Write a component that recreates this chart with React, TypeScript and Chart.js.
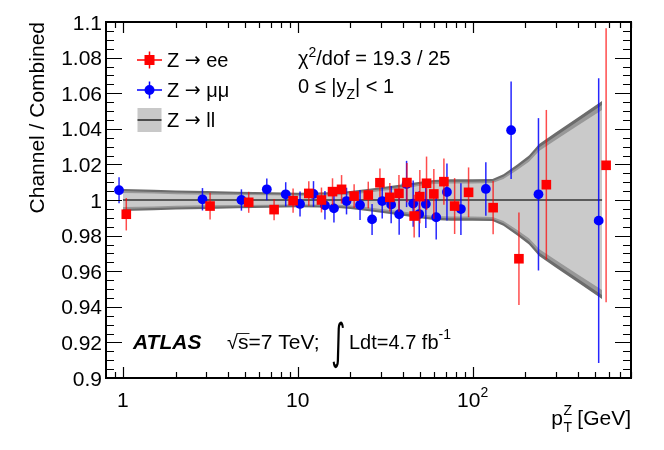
import { useEffect, useRef } from "react"
import { Chart, registerables } from "chart.js"

Chart.register(...registerables)

// Z -> ee points (pT in GeV, ratio to combined, error)
const eeX = [1.045, 3.15, 5.24, 7.32, 9.4, 11.56, 13.66, 15.8, 17.8, 21.0, 25.3, 29.5, 33.6, 37.9, 42.1, 46.3, 49.9, 54.5, 60.0, 68.5, 78.9, 94.8, 131, 184, 264, 580]
const eeY = [0.992, 0.9966, 0.9987, 0.9946, 0.9996, 1.0037, 1.0, 1.0047, 1.006, 1.0022, 1.0028, 1.0097, 1.0015, 1.0037, 1.0098, 0.991, 1.0019, 1.0094, 1.0034, 1.0103, 0.9966, 1.0043, 0.9957, 0.967, 1.0086, 1.0195]
const eeErr = [0.0091, 0.0075, 0.0059, 0.006, 0.0068, 0.0069, 0.007, 0.0075, 0.008, 0.0067, 0.0075, 0.008, 0.008, 0.0103, 0.011, 0.012, 0.015, 0.015, 0.014, 0.013, 0.0157, 0.014, 0.015, 0.026, 0.042, 0.077]

// Z -> mumu points
const mmX = [0.95, 2.85, 4.76, 6.65, 8.53, 10.3, 12.3, 14.3, 16.1, 19.0, 22.7, 26.6, 30.4, 34.2, 38.0, 41.9, 45.7, 49.5, 54.0, 61.9, 71.3, 85.7, 119, 166, 238, 526]
const mmY = [1.0055, 1.0004, 1.0, 1.006, 1.0032, 0.9978, 1.0034, 0.997, 0.9953, 0.9994, 0.9972, 0.9891, 0.9994, 0.9974, 0.992, 1.009, 0.998, 0.9921, 0.9978, 0.9903, 1.0045, 0.9949, 1.0062, 1.0392, 1.0032, 0.9884]
const mmErr = [0.0073, 0.0063, 0.006, 0.0061, 0.0068, 0.007, 0.0072, 0.008, 0.008, 0.0075, 0.0084, 0.0087, 0.0098, 0.0105, 0.0115, 0.013, 0.013, 0.013, 0.0135, 0.0125, 0.016, 0.0145, 0.015, 0.0274, 0.0428, 0.08]

// combined uncertainty band (half widths around 1)
const bandX = [1.0, 1.5, 2, 3, 4.5, 7, 10, 13, 17, 20, 25, 30, 40, 50, 60, 75, 100, 130, 150, 180, 210, 240, 300, 400, 550]
const bandOuter = [0.0062, 0.0057, 0.0054, 0.005, 0.0047, 0.0044, 0.0041, 0.0042, 0.0045, 0.005, 0.0062, 0.0072, 0.0088, 0.0103, 0.0113, 0.0116, 0.0116, 0.0118, 0.0145, 0.02, 0.025, 0.0315, 0.038, 0.0463, 0.0556]
const bandMid = [0.005, 0.0045, 0.0042, 0.0038, 0.0035, 0.0032, 0.003, 0.0031, 0.0034, 0.0039, 0.005, 0.006, 0.0075, 0.009, 0.01, 0.0103, 0.0103, 0.0105, 0.013, 0.0183, 0.0232, 0.0295, 0.036, 0.0442, 0.0534]
const bandInner = [0.004, 0.0036, 0.0033, 0.003, 0.0028, 0.0026, 0.0024, 0.0025, 0.0027, 0.0031, 0.0041, 0.005, 0.0065, 0.008, 0.009, 0.0093, 0.0093, 0.0095, 0.0118, 0.0168, 0.0215, 0.0275, 0.0338, 0.0418, 0.0506]

const yTickValues = [0.9, 0.92, 0.94, 0.96, 0.98, 1, 1.02, 1.04, 1.06, 1.08, 1.1]
const yTickLabels = ["0.9", "0.92", "0.94", "0.96", "0.98", "1", "1.02", "1.04", "1.06", "1.08", "1.1"]
const xTickValues = [1, 10, 100]
const xTickBases = ["1", "10", "10"]
const xTickExps = ["", "", "2"]

const FONT = '"Liberation Sans", Arial, Helvetica, sans-serif'
const SYM = '"DejaVu Sans", sans-serif'

type Seg = { t: string; size?: number; dy?: number; style?: string; family?: string }

function segFont(s: Seg, base: number) {
  return `${s.style ?? ""} ${s.size ?? base}px ${s.family ?? FONT}`
}

function richWidth(ctx: CanvasRenderingContext2D, segs: Seg[], base: number) {
  let w = 0
  for (const s of segs) {
    ctx.font = segFont(s, base)
    w += ctx.measureText(s.t).width
  }
  return w
}

function drawRich(ctx: CanvasRenderingContext2D, segs: Seg[], x: number, y: number, base: number, align = "left") {
  const w = richWidth(ctx, segs, base)
  let cx = align === "right" ? x - w : align === "center" ? x - w / 2 : x
  ctx.textAlign = "left"
  ctx.textBaseline = "alphabetic"
  for (const s of segs) {
    ctx.font = segFont(s, base)
    ctx.fillText(s.t, cx, y + (s.dy ?? 0))
    cx += ctx.measureText(s.t).width
  }
  return cx
}

const errorBars = {
  id: "errorBars",
  beforeDatasetDraw(chart: any, args: any) {
    const ds = chart.data.datasets[args.index]
    if (!ds.errs) return
    const { ctx } = chart
    const x = chart.scales.x
    const y = chart.scales.y
    ctx.save()
    ctx.strokeStyle = ds.errColor
    ctx.lineWidth = 1.5
    ds.data.forEach((p: any, i: number) => {
      const px = x.getPixelForValue(p.x)
      ctx.beginPath()
      ctx.moveTo(px, y.getPixelForValue(p.y - ds.errs[i]))
      ctx.lineTo(px, y.getPixelForValue(p.y + ds.errs[i]))
      ctx.stroke()
    })
    ctx.restore()
  },
}

const frame = {
  id: "frame",
  afterDraw(chart: any) {
    const { ctx, chartArea: a } = chart
    const x = chart.scales.x
    const y = chart.scales.y
    ctx.save()
    ctx.strokeStyle = "#000"
    ctx.fillStyle = "#000"

    // inward ticks on y, both sides
    ctx.lineWidth = 1.2
    for (let i = 0; i <= 40; i++) {
      const v = 0.9 + i * 0.005
      const py = Math.round(y.getPixelForValue(v)) + 0.5
      const len = i % 4 === 0 ? 16 : 8
      ctx.beginPath()
      ctx.moveTo(a.left, py)
      ctx.lineTo(a.left + len, py)
      ctx.moveTo(a.right, py)
      ctx.lineTo(a.right - len, py)
      ctx.stroke()
    }
    // inward ticks on x, top and bottom
    for (let dec = 0.1; dec <= 100; dec *= 10) {
      for (let m = 1; m <= 9; m++) {
        const v = m * dec
        if (v <= x.min || v >= x.max) continue
        const px = Math.round(x.getPixelForValue(v)) + 0.5
        const len = m === 1 ? 11 : 6
        ctx.beginPath()
        ctx.moveTo(px, a.bottom)
        ctx.lineTo(px, a.bottom - len)
        ctx.moveTo(px, a.top)
        ctx.lineTo(px, a.top + len)
        ctx.stroke()
      }
    }
    ctx.lineWidth = 2
    ctx.strokeRect(a.left, a.top, a.right - a.left, a.bottom - a.top)

    // tick labels
    ctx.font = `21px ${FONT}`
    ctx.textAlign = "right"
    ctx.textBaseline = "alphabetic"
    yTickValues.forEach((v, i) => {
      ctx.fillText(yTickLabels[i], a.left - 4, y.getPixelForValue(v) + 7.5)
    })
    xTickValues.forEach((v, i) => {
      const segs: Seg[] = [{ t: xTickBases[i] }]
      if (xTickExps[i]) segs.push({ t: xTickExps[i], size: 14, dy: -10 })
      drawRich(ctx, segs, x.getPixelForValue(v), 407, 21, "center")
    })

    // axis titles
    ctx.save()
    ctx.translate(44, 22)
    ctx.rotate(-Math.PI / 2)
    ctx.font = `21px ${FONT}`
    ctx.textAlign = "right"
    ctx.fillText("Channel / Combined", 0, 0)
    ctx.restore()

    const unit = " [GeV]"
    ctx.font = `21px ${FONT}`
    const wUnit = ctx.measureText(unit).width
    ctx.font = `14px ${FONT}`
    const wSub = Math.max(ctx.measureText("Z").width, ctx.measureText("T").width)
    ctx.font = `21px ${FONT}`
    const wP = ctx.measureText("p").width
    const x0 = 631 - wUnit - wSub - wP
    ctx.textAlign = "left"
    ctx.fillText("p", x0, 425)
    ctx.fillText(unit, x0 + wP + wSub, 425)
    ctx.font = `14px ${FONT}`
    ctx.fillText("Z", x0 + wP + 0.5, 415)
    ctx.fillText("T", x0 + wP + 0.5, 432)

    // legend
    ctx.lineWidth = 1.5
    ctx.strokeStyle = "#ff0000"
    ctx.beginPath()
    ctx.moveTo(137, 60)
    ctx.lineTo(162, 60)
    ctx.moveTo(149.5, 51.5)
    ctx.lineTo(149.5, 68.5)
    ctx.stroke()
    ctx.fillStyle = "#ff0000"
    ctx.fillRect(144.5, 55, 10, 10)
    ctx.strokeStyle = "#0000ff"
    ctx.beginPath()
    ctx.moveTo(137, 90)
    ctx.lineTo(162, 90)
    ctx.moveTo(149.5, 81.5)
    ctx.lineTo(149.5, 98.5)
    ctx.stroke()
    ctx.fillStyle = "#0000ff"
    ctx.beginPath()
    ctx.arc(149.5, 90, 5, 0, Math.PI * 2)
    ctx.fill()
    ctx.fillStyle = "#c8c8c8"
    ctx.fillRect(137.5, 108, 24, 24)
    ctx.strokeStyle = "#222"
    ctx.beginPath()
    ctx.moveTo(137.5, 120)
    ctx.lineTo(161.5, 120)
    ctx.stroke()

    ctx.fillStyle = "#000"
    const arrow: Seg = { t: "\u2192", family: SYM, size: 19, dy: -1 }
    drawRich(ctx, [{ t: "Z " }, arrow, { t: " ee" }], 167, 67, 20)
    drawRich(ctx, [{ t: "Z " }, arrow, { t: " \u03bc\u03bc" }], 167, 97, 20)
    drawRich(ctx, [{ t: "Z " }, arrow, { t: " ll" }], 167, 127, 20)

    // fit info
    drawRich(ctx, [{ t: "\u03c7" }, { t: "2", size: 14, dy: -8 }, { t: "/dof = 19.3 / 25" }], 298, 65, 20)
    drawRich(ctx, [{ t: "0 \u2264 |y" }, { t: "Z", size: 14, dy: 6 }, { t: "| < 1" }], 298, 93, 20)

    // experiment label
    drawRich(ctx, [{ t: "ATLAS", style: "italic bold" }], 133, 349, 21)
    const afterRoot = drawRich(ctx, [{ t: "\u221a" }], 227, 349, 20)
    const afterS = drawRich(ctx, [{ t: "s" }], afterRoot, 349, 21)
    ctx.lineWidth = 1
    ctx.beginPath()
    ctx.moveTo(afterRoot - 1, 333.5)
    ctx.lineTo(afterS + 1, 333.5)
    ctx.stroke()
    drawRich(ctx, [{ t: "=7 TeV;" }], afterS, 349, 21)
    ctx.save()
    ctx.translate(331, 358)
    ctx.scale(0.6, 1.05)
    ctx.font = `46px ${SYM}`
    ctx.textAlign = "left"
    ctx.fillText("\u222b", 0, 0)
    ctx.restore()
    drawRich(ctx, [{ t: "Ldt=4.7 fb" }, { t: "-1", size: 14, dy: -10 }], 349, 349, 20)

    ctx.restore()
  },
}

function bandData(sign: number, widths: number[]) {
  return bandX.map((v, i) => ({ x: v, y: 1 + sign * widths[i] }))
}

export default function App() {
  const chartRef = useRef<HTMLCanvasElement>(null)
  const chartInstance = useRef<Chart | null>(null)

  useEffect(() => {
    if (!chartRef.current) return
    const ctx = chartRef.current.getContext("2d")
    if (!ctx) return
    if (chartInstance.current) chartInstance.current.destroy()

    const bandLine = { showLine: true, pointRadius: 0, borderWidth: 0, tension: 0 }

    chartInstance.current = new Chart(ctx, {
      type: "scatter",
      data: {
        datasets: [
          {
            label: "Z -> ee",
            data: eeX.map((v, i) => ({ x: v, y: eeY[i] })),
            errs: eeErr,
            errColor: "rgba(255,0,0,0.7)",
            pointStyle: "rect",
            pointRadius: 6.8,
            backgroundColor: "#ff0000",
            borderWidth: 0,
            order: 0,
          },
          {
            label: "Z -> mumu",
            data: mmX.map((v, i) => ({ x: v, y: mmY[i] })),
            errs: mmErr,
            errColor: "rgba(0,0,255,0.85)",
            pointStyle: "circle",
            pointRadius: 4.9,
            backgroundColor: "#0000ff",
            borderWidth: 0,
            order: 0,
          },
          {
            label: "combined",
            data: bandX.map((v) => ({ x: v, y: 1 })),
            showLine: true,
            pointRadius: 0,
            borderColor: "#5a5a5a",
            borderWidth: 2,
            order: 1,
          },
          { ...bandLine, data: bandData(1, bandInner), fill: 4, backgroundColor: "#cacaca", order: 2 },
          { ...bandLine, data: bandData(-1, bandInner), order: 2 },
          { ...bandLine, data: bandData(1, bandMid), fill: 6, backgroundColor: "#989898", order: 3 },
          { ...bandLine, data: bandData(-1, bandMid), order: 3 },
          { ...bandLine, data: bandData(1, bandOuter), fill: 8, backgroundColor: "#6c6c6c", order: 4 },
          { ...bandLine, data: bandData(-1, bandOuter), order: 4 },
        ] as any,
      },
      options: {
        responsive: false,
        animation: false,
        layout: { padding: { left: 106, right: 33, top: 22, bottom: 72 } },
        scales: {
          x: { type: "logarithmic", min: 0.8, max: 805, display: false },
          y: { type: "linear", min: 0.9, max: 1.1, display: false },
        },
        plugins: {
          legend: { display: false },
          tooltip: { enabled: false },
        },
      },
      plugins: [errorBars, frame],
    })

    return () => {
      if (chartInstance.current) {
        chartInstance.current.destroy()
        chartInstance.current = null
      }
    }
  }, [])

  return (
    <div style={{ position: "fixed", left: 0, top: 0, width: 664, height: 450, background: "#fff" }}>
      <canvas ref={chartRef} width={664} height={450} style={{ width: 664, height: 450 }} />
    </div>
  )
}
